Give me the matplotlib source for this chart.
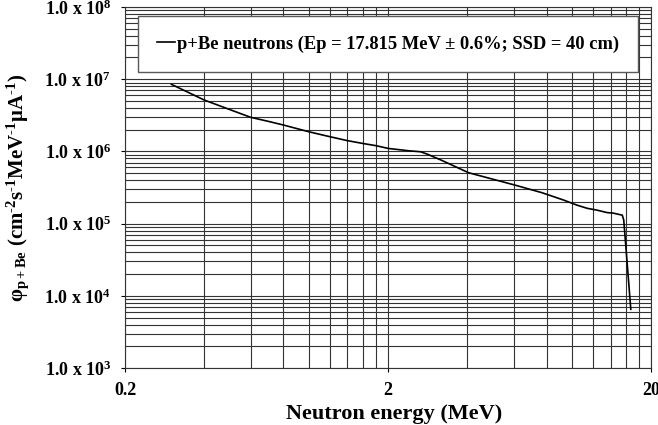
import numpy as np
import matplotlib
matplotlib.use("Agg")
import matplotlib.pyplot as plt
from matplotlib.ticker import FixedLocator, FuncFormatter, LogLocator, NullFormatter

# neutron spectrum, p+Be at 17.815 MeV
energy = [0.30, 0.40, 0.50, 0.60, 0.70, 0.80, 1.0, 1.2, 1.4, 1.6, 1.8, 2.0,
          2.4, 2.65, 2.81, 3.2, 4.04, 5.0, 6.04, 7.68, 9.28, 10.4, 11.4,
          12.4, 13.6, 14.3, 15.5, 15.7, 16.7]
flux = [8.5e6, 5.15e6, 3.8e6, 2.97e6, 2.61e6, 2.32e6, 1.87e6, 1.6e6, 1.41e6,
        1.29e6, 1.2e6, 1.1e6, 1.02e6, 9.9e5, 9.2e5, 7.5e5, 5.07e5, 4.12e5,
        3.43e5, 2.68e5, 2.12e5, 1.81e5, 1.63e5, 1.54e5, 1.42e5, 1.40e5,
        1.31e5, 1.12e5, 6.5e3]
y_exponents = [3, 4, 5, 6, 7, 8]
x_ticks = [0.2, 2, 20]

plt.rcParams['font.family'] = 'Liberation Serif'
plt.rcParams['font.weight'] = 'bold'
plt.rcParams['axes.labelweight'] = 'bold'
plt.rcParams['mathtext.fontset'] = 'custom'
plt.rcParams['mathtext.rm'] = 'Liberation Serif:bold'
plt.rcParams['mathtext.bf'] = 'Liberation Serif:bold'
plt.rcParams['mathtext.it'] = 'Liberation Serif:bold:italic'
plt.rcParams['mathtext.default'] = 'rm'

fig = plt.figure(figsize=(6.58, 4.25), dpi=100)
ax = fig.add_axes([0.19, 0.134, 0.8, 0.8495])

ax.plot(energy, flux, color='black', lw=1.2,
        label='p+Be neutrons (Ep = 17.815 MeV \u00b1 0.6%; SSD = 40 cm)')
ax.set_xscale('log')
ax.set_yscale('log')
ax.set_xlim(0.2, 20)
ax.set_ylim(1e3, 1e8)

# excel-style log grid: minor lines at multiples of the first decade start
minor_x = list(np.arange(0.4, 1.99, 0.2)) + list(np.arange(4, 19.9, 2))
ax.xaxis.set_major_locator(FixedLocator(x_ticks))
ax.xaxis.set_minor_locator(FixedLocator(minor_x))
ax.xaxis.set_major_formatter(FuncFormatter(lambda v, p: f'{v:g}'))
ax.xaxis.set_minor_formatter(NullFormatter())

ax.yaxis.set_major_locator(FixedLocator([10.0 ** e for e in y_exponents]))
ax.yaxis.set_minor_locator(LogLocator(base=10, subs=np.arange(2, 10)))
ax.yaxis.set_major_formatter(
    FuncFormatter(lambda v, p: r'1.0 x 10$^{%d}$' % round(np.log10(v))))
ax.yaxis.set_minor_formatter(NullFormatter())

ax.grid(True, which='both', color='0.2', lw=0.8)
ax.tick_params(which='major', length=3, width=0.8, labelsize=13)
ax.tick_params(axis='y', pad=7)
ax.tick_params(axis='x', pad=7)
ax.tick_params(which='minor', length=0)
for s in ax.spines.values():
    s.set_color('0.2')
    s.set_linewidth(0.8)

ax.set_xlabel('Neutron energy (MeV)', fontsize=16, labelpad=4)
ax.xaxis.label.set_x(0.511)
ax.set_ylabel('\u03c6$_{p+Be}$ (cm$^{\\text{-}2}$s$^{\\text{-}1}$MeV$^{\\text{-}1}$'
              '\u03bcA$^{\\text{-}1}$)', fontsize=15, labelpad=9.5)

leg = ax.legend(loc='upper center', bbox_to_anchor=(0.5, 0.975),
                fontsize=13.3, frameon=True, fancybox=False, framealpha=1,
                edgecolor='0.35', borderpad=1.05, handlelength=0.95,
                handletextpad=0.1, borderaxespad=0)
leg.get_frame().set_linewidth(1.0)

fig.savefig('out.png', dpi=100)
